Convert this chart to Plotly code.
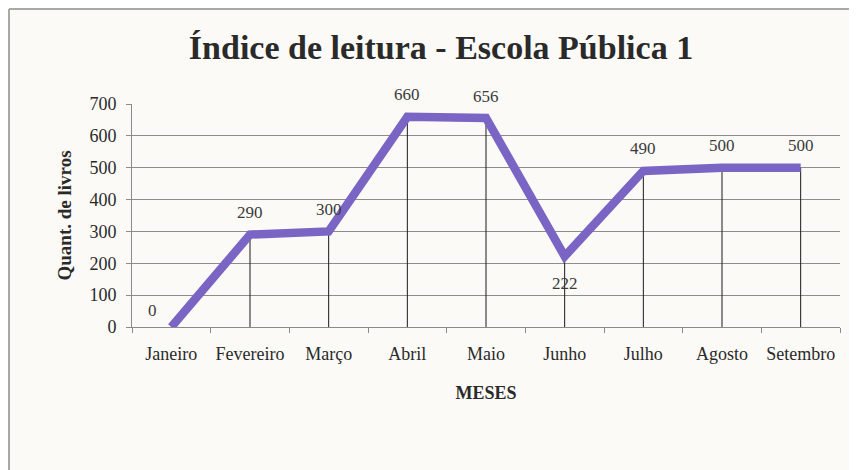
import plotly.graph_objects as go

meses = ["Janeiro", "Fevereiro", "Março", "Abril", "Maio", "Junho", "Julho", "Agosto", "Setembro"]
livros = [0, 290, 300, 660, 656, 222, 490, 500, 500]
y_ticks = [0, 100, 200, 300, 400, 500, 600, 700]

# label offsets (style): pixels relative to each point
lab_dx = [-19, 0, 0, 0, 0, 0, 0, 0, 0]
lab_dy = [17, 22, 22, 22, 22, -27, 22, 22, 22]

W, H = 857, 470
OFF = 8  # page body margin
L, R, T, B = 132 - OFF, 17 + OFF, 104 - OFF, 143 + OFF
pw, ph = W - L - R, H - T - B

SERIF = "Liberation Serif, Times New Roman, serif"
BG = "#fbfaf6"
TXT = "#2a2a2a"

# drop lines
dx, dy = [], []
for m, v in zip(meses, livros):
    dx += [m, m, None]
    dy += [0, v, None]

fig = go.Figure()
fig.add_trace(go.Scatter(x=dx, y=dy, mode="lines",
                         line=dict(color="#1a1a1a", width=1),
                         hoverinfo="skip", showlegend=False))
fig.add_trace(go.Scatter(x=meses, y=livros, mode="lines",
                         line=dict(color="#7a64c4", width=8.5),
                         cliponaxis=False, showlegend=False))

annotations = [
    dict(x=m, y=v, xref="x", yref="y", text=str(v), showarrow=False,
         xshift=sx, yshift=sy, xanchor="center", yanchor="middle",
         font=dict(family=SERIF, size=17, color="#3a3a3a"))
    for m, v, sx, sy in zip(meses, livros, lab_dx, lab_dy)
]

def px(x):
    return (x - L) / pw

def py(y):
    return (H - B - y) / ph

fig.update_layout(
    width=W, height=H,
    margin=dict(l=L, r=R, t=T, b=B),
    paper_bgcolor=BG, plot_bgcolor=BG,
    showlegend=False,
    title=dict(text="<b>Índice de leitura - Escola Pública 1</b>",
               x=(441 - OFF) / W, xanchor="center", y=1 - (47 - OFF) / H, yanchor="middle",
               font=dict(family=SERIF, size=34, color=TXT)),
    xaxis=dict(
        type="category", categoryorder="array", categoryarray=meses,
        range=[-0.5, len(meses) - 0.5],
        showgrid=False, showline=True, linecolor="#8a8a8a", linewidth=1,
        ticks="outside", tickson="boundaries", ticklen=5, tickcolor="#8a8a8a",
        ticklabelstandoff=10,
        tickfont=dict(family=SERIF, size=18, color=TXT),
        title=dict(text="<b>MESES</b>", standoff=23,
                   font=dict(family=SERIF, size=18, color=TXT)),
        zeroline=False,
    ),
    yaxis=dict(
        range=[0, 700], tickvals=y_ticks,
        showgrid=True, gridcolor="#8c8c8c", gridwidth=1,
        showline=True, linecolor="#8a8a8a", linewidth=1,
        ticks="outside", ticklen=5, tickcolor="#8a8a8a",
        ticklabelstandoff=6,
        tickfont=dict(family=SERIF, size=18, color=TXT),
        title=dict(text="<b>Quant. de livros</b>", standoff=12,
                   font=dict(family=SERIF, size=19, color=TXT)),
        zeroline=False,
    ),
    annotations=annotations,
    shapes=[
        dict(type="line", xref="paper", yref="paper",
             x0=px(1), x1=px(1), y0=py(1), y1=py(H + 20),
             line=dict(color="#a8a8a8", width=2)),
        dict(type="line", xref="paper", yref="paper",
             x0=px(1), x1=px(W + 20), y0=py(1), y1=py(1),
             line=dict(color="#a8a8a8", width=2)),
    ],
)

fig.write_html("out.html")
